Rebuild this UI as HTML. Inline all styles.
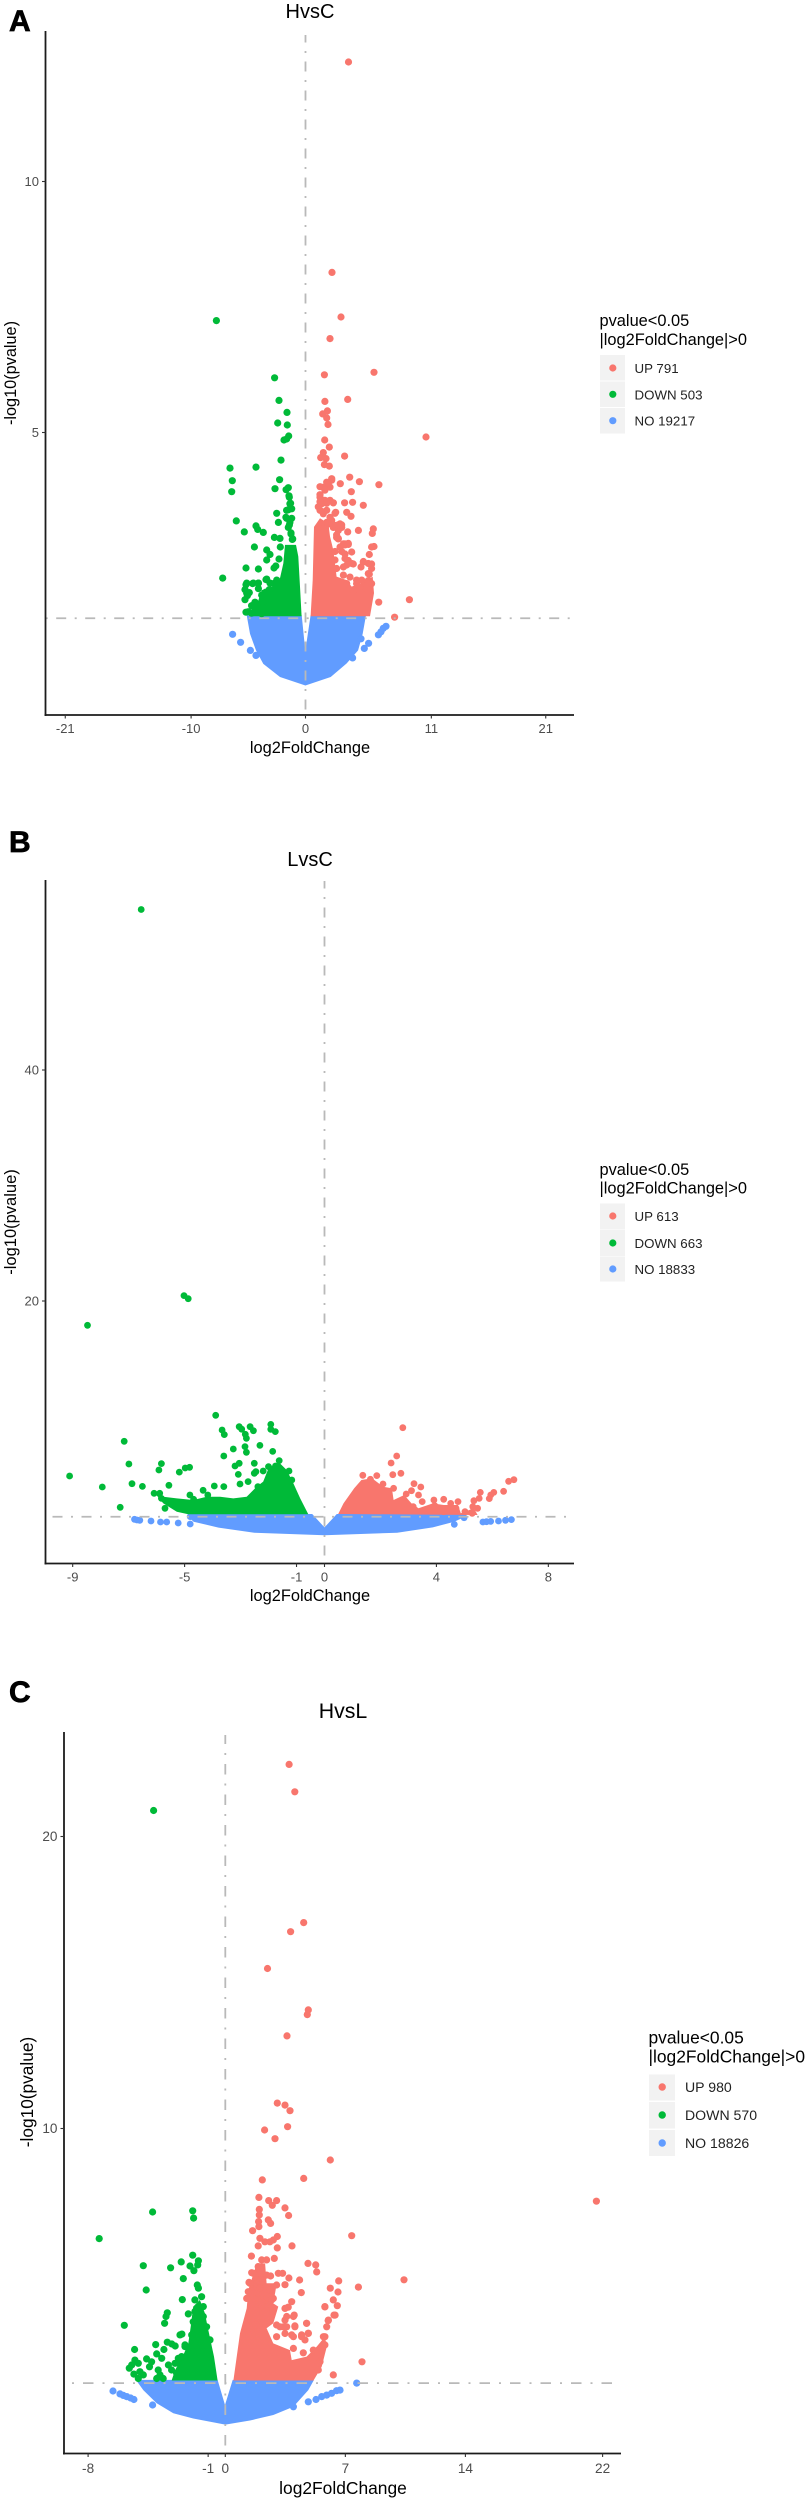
<!DOCTYPE html>
<html lang="en">
<head>
<meta charset="utf-8">
<title>Volcano plots</title>
<style>
html,body{margin:0;padding:0;background:#fff;}
svg{display:block;font-family:"Liberation Sans",sans-serif;}
</style>
</head>
<body>
<svg id="figure" width="808" height="2500" viewBox="0 0 808 2500" xmlns="http://www.w3.org/2000/svg">
<rect width="808" height="2500" fill="#fff"/>

<g id="panel-a"></g>
<g id="panel-b"></g>
<g id="panel-c"></g>

<g fill="#000" stroke="#000" stroke-width="0.7" font-weight="700" font-size="30">
<text x="9" y="31">A</text>
<text x="9" y="852">B</text>
<text x="9" y="1702">C</text>
</g>

<g fill="#000" text-anchor="middle">
<text x="310" y="18" font-size="20">HvsC</text>
<text x="310" y="866" font-size="20">LvsC</text>
<text x="343" y="1718" font-size="21.3">HvsL</text>
<text x="310" y="753" font-size="16.4">log2FoldChange</text>
<text x="310" y="1601" font-size="16.4">log2FoldChange</text>
<text x="343" y="2494" font-size="17.4">log2FoldChange</text>
<text transform="translate(16,373) rotate(-90)" font-size="16.3">-log10(pvalue)</text>
<text transform="translate(16,1222) rotate(-90)" font-size="16.5">-log10(pvalue)</text>
<text transform="translate(33,2092) rotate(-90)" font-size="17.3">-log10(pvalue)</text>
</g>

<g>
<text x="599.5" y="326" font-size="16.4">pvalue&lt;0.05</text>
<text x="599.5" y="345" font-size="16.4">|log2FoldChange|&gt;0</text>
<rect x="600" y="355" width="25" height="25.5" fill="#f2f2f2"/>
<rect x="600" y="381.5" width="25" height="25.5" fill="#f2f2f2"/>
<rect x="600" y="408" width="25" height="25.5" fill="#f2f2f2"/>
<circle cx="612.8" cy="368" r="3.6" fill="#F8766D"/>
<circle cx="612.8" cy="394.3" r="3.6" fill="#00BA38"/>
<circle cx="612.8" cy="420.7" r="3.6" fill="#619CFF"/>
<text x="634.5" y="373" font-size="13.3" fill="#222">UP 791</text>
<text x="634.5" y="399.3" font-size="13.3" fill="#222">DOWN 503</text>
<text x="634.5" y="425.7" font-size="13.3" fill="#222">NO 19217</text>
</g>

<g>
<text x="599.5" y="1175" font-size="16.4">pvalue&lt;0.05</text>
<text x="599.5" y="1193.5" font-size="16.4">|log2FoldChange|&gt;0</text>
<rect x="600" y="1203.5" width="25" height="26" fill="#f2f2f2"/>
<rect x="600" y="1230" width="25" height="26" fill="#f2f2f2"/>
<rect x="600" y="1256.5" width="25" height="25" fill="#f2f2f2"/>
<circle cx="612.8" cy="1216" r="3.6" fill="#F8766D"/>
<circle cx="612.8" cy="1243" r="3.6" fill="#00BA38"/>
<circle cx="612.8" cy="1269" r="3.6" fill="#619CFF"/>
<text x="634.5" y="1221" font-size="13.3" fill="#222">UP 613</text>
<text x="634.5" y="1248" font-size="13.3" fill="#222">DOWN 663</text>
<text x="634.5" y="1274" font-size="13.3" fill="#222">NO 18833</text>
</g>

<g>
<text x="648.5" y="2043.5" font-size="17.4">pvalue&lt;0.05</text>
<text x="648.5" y="2062.5" font-size="17.4">|log2FoldChange|&gt;0</text>
<rect x="649" y="2074.5" width="26" height="26" fill="#f2f2f2"/>
<rect x="649" y="2102" width="26" height="26.5" fill="#f2f2f2"/>
<rect x="649" y="2130" width="26" height="26" fill="#f2f2f2"/>
<circle cx="662.2" cy="2087" r="3.7" fill="#F8766D"/>
<circle cx="662.2" cy="2115" r="3.7" fill="#00BA38"/>
<circle cx="662.2" cy="2143" r="3.7" fill="#619CFF"/>
<text x="685" y="2092" font-size="14.1" fill="#222">UP 980</text>
<text x="685" y="2120" font-size="14.1" fill="#222">DOWN 570</text>
<text x="685" y="2148" font-size="14.1" fill="#222">NO 18826</text>
</g>
</svg>

<script>
/* ---------- Panel A: HvsC ---------- */
const aXTicks=[-21,-10,0,11,21];
const aYTicks=[5,10];
const aUpX=[3.76,2.32,3.1,2.14,5.99,1.65,3.69,1.70,1.91,1.5,1.85,1.97,10.53,1.68,2.08,3.42,1.56,1.33,1.79,1.65,2.08,3.86,4.71,3.04,6.42,4.0,3.42,4.12,5.05,3.6,3.98,3.69,4.62,5.93,5.84,5.99,5.78,9.08,6.4,7.79,
2.43,2.64,3.16,2.72,2.87,2.14,3.31,3.74,3.45,4.04,3.74,4.18,3.31,5.58,5.05,5.78,4.85,5.58,5.49,4.76,5.78,5.49,3.89,4.47,3.6,4.18,
1.27,1.56,1.85,2.29,2.14,1.41,1.7,1.27,1.85,1.56,2.14,1.85,2.29,1.12,2.72,3.02,2.43,2.0,3.45,2.87,3.02,
1.27,1.7,1.27,2.0,2.29,1.12,1.56,1.27,1.85,2.43,2.58,2.43,2.87,3.16,2.72,2.87,3.45,3.74,3.16,3.45,3.6,4.04,2.58,2.58,2.72,5.06,5.49,5.78,5.49,4.91,4.47,3.31];
const aUpY=[12.38,8.19,7.30,6.87,6.2,6.15,5.66,5.62,5.43,5.37,5.29,5.16,4.91,4.85,4.71,4.53,4.6,4.5,4.48,4.36,4.33,4.11,4.02,3.98,3.96,3.82,3.6,3.61,3.55,3.41,3.33,3.02,3.05,3.08,2.99,2.73,2.72,1.67,1.62,1.32,
3.6,3.41,3.11,2.91,3.05,3.31,2.78,2.77,2.58,2.62,2.45,2.38,2.32,2.57,2.42,2.38,2.32,2.18,2.05,1.92,1.99,1.85,2.12,1.99,1.99,1.85,
3.71,3.91,4.01,4.08,3.91,3.58,3.65,3.45,3.45,3.38,3.65,3.21,3.25,3.11,3.15,3.18,3.11,3.18,2.78,2.88,2.72,
3.92,3.85,3.76,3.99,4.05,3.52,3.42,3.62,3.59,3.6,3.39,3.16,3.16,3.16,2.96,2.89,2.76,2.79,2.63,2.49,2.36,2.39,2.63,2.46,2.29,2.43,2.39,2.29,2.19,2.06,2.06,2.16];
const aDownX=[-7.79,-2.70,-2.32,-1.62,-2.43,-1.59,-1.47,-1.88,-1.65,-2.14,-6.6,-4.33,-2.26,-6.4,-2.67,-6.45,-1.70,-1.5,-2.52,-2.37,-6.05,-5.35,-4.33,-4.18,-3.69,-2.72,-2.23,-4.47,-2.2,-3.39,-3.1,-3.39,-2.32,-5.2,-4.12,-2.6,-2.75,-7.24,
-5.2,-5.29,-4.91,-5.08,-5.29,-4.62,-4.12,-4.12,-3.45,-3.16,-3.45,-2.81,-2.52,-4.41,-4.71,-4.41,-4.12,-5.2,-4.71,-3.83,-3.54,-3.69,-3.39,-3.25,
-1.42,-1.36,-1.65,-1.21,-1.71,-1.36,-1.5,-1.27,-1.12,
-1.44,-1.3,-1.5,-1.65,-1.21,-1.41,-1.27,-1.15,-5.14,-5.14,-4.56,-4.12,-3.39,-3.1,-2.52,-3.83,-4.56,-5.0,-3.69];
const aDownY=[7.23,6.09,5.64,5.40,5.19,5.15,4.93,4.85,4.87,4.45,4.29,4.31,4.06,4.04,3.88,3.82,3.86,3.9,3.39,3.21,3.24,3.02,3.14,3.07,3.01,2.91,2.89,2.72,2.72,2.66,2.57,2.46,2.48,2.3,2.28,2.34,2.3,2.1,
1.97,1.87,1.81,1.75,1.67,1.99,2.0,1.89,2.07,1.87,1.82,1.99,1.95,1.62,1.55,1.49,1.52,1.42,1.4,1.39,1.79,1.62,1.52,1.69,
3.71,3.58,3.45,3.48,3.31,3.21,3.11,2.98,2.88,
3.74,3.59,3.46,3.29,3.29,3.16,3.0,2.87,2.0,1.8,2.0,2.0,2.08,2.0,2.06,1.76,1.56,1.43,1.5];
const aNoX=[-6.37,-5.67,-4.82,-4.33,5.14,5.52,6.37,6.6,6.8,7.04,4.85,4.12];
const aNoY=[0.98,0.82,0.66,0.56,0.7,0.8,0.97,1.03,1.1,1.14,0.89,0.51];
const aUpCloudX=[0.45,0.63,0.74,1.27,2.0,2.14,2.43,2.72,3.6,4.03,4.76,5.35,5.87,5.99,5.64];
const aUpCloudY=[1.34,2.06,3.12,3.29,3.19,2.93,2.66,2.13,2.06,1.93,1.99,2.06,2.13,1.8,1.34];
const aDownCloudX=[-0.34,-0.48,-0.63,-0.83,-1.79,-1.94,-2.23,-2.81,-3.83,-4.27,-4.71];
const aDownCloudY=[1.34,1.93,2.53,2.76,2.76,2.39,2.1,1.93,1.86,1.56,1.34];
const aNoCloudX=[-5.14,-0.33,-0.02,0.45,5.29,5.0,4.6,3.6,2.2,-0.01,-2.23,-3.69,-4.33,-4.85];
const aNoCloudY=[1.36,1.36,0.65,1.36,1.36,0.99,0.66,0.4,0.13,-0.04,0.13,0.39,0.66,0.99];

/* ---------- Panel B: LvsC ---------- */
const bXTicks=[-9,-5,-1,0,4,8];
const bYTicks=[20,40];
const bUpX=[2.8,2.58,2.38,2.44,2.73,1.37,1.87,1.64,2.09,3.2,3.44,3.11,2.92,2.47,3.36,3.49,3.91,4.26,4.51,4.77,3.94,4.39,4.7,5.57,5.53,5.34,5.3,5.47,6.05,5.94,5.89,6.4,6.58,6.77,5.28,5.02,3.17,2.85,3.75,4.26];
const bUpY=[9.03,6.58,5.97,4.96,5.08,4.91,4.88,4.56,4.16,4.18,3.9,3.58,3.29,3.78,3.2,2.63,2.77,2.83,2.48,2.63,2.28,1.9,2.05,3.43,2.91,2.71,2.19,2.05,3.43,3.2,2.89,3.52,4.39,4.53,1.62,1.76,2.19,2.48,1.9,1.76];
const bDownX=[-6.55,-5.02,-4.87,-8.47,-3.89,-3.05,-2.96,-2.66,-2.54,-3.66,-3.58,-1.92,-1.92,-1.76,-2.83,-2.79,-2.84,-2.79,-2.31,-3.26,-3.6,-1.85,-7.16,-6.99,-9.11,-7.94,-6.88,-6.51,-7.3,-5.83,-5.92,-5.19,-4.98,-4.82,-5.56,-6.09,-5.89,-5.83,-5.7,
-3.2,-3.05,-2.51,-3.08,-2.51,-2.45,-2.19,-2.0,-1.75,-1.62,-1.27,-1.17,-3.02,-2.73,-2.38,-3.94,-3.6,-4.34,-4.81,-4.68,-4.17];
const bDownY=[53.9,20.47,20.2,17.9,10.1,9.12,8.9,9.12,8.77,8.83,8.43,9.32,8.89,8.69,8.46,8.11,7.39,6.9,7.5,7.19,6.58,6.98,7.85,5.89,4.85,3.9,4.18,3.95,2.14,5.92,5.37,5.19,5.54,5.6,4.04,3.35,3.35,2.91,2.05,
5.71,5.95,5.95,4.99,5.08,5.22,5.28,5.66,5.71,6.18,5.28,4.5,4.16,4.36,3.93,3.98,3.93,3.61,3.2,2.83,3.2];
const bNoX=[-6.79,-6.7,-6.6,-6.2,-5.86,-5.64,-5.23,-4.8,-4.8,4.64,4.99,5.66,5.79,5.94,6.22,6.47,6.68];
const bNoY=[1.1,1.04,1.01,0.95,0.87,0.87,0.78,0.69,1.33,0.66,1.24,0.87,0.89,0.92,0.95,1.01,1.07];
const bUpCloudX=[0.49,0.68,1.06,1.32,1.7,2.09,2.41,2.47,2.85,3.11,3.36,3.87,4.26,4.77,4.87,5.34,5.47];
const bUpCloudY=[1.56,2.48,3.78,4.5,4.65,3.92,3.78,2.77,3.2,2.48,2.05,2.48,2.34,2.34,1.62,2.05,1.47];
const bDownCloudX=[-0.58,-0.87,-1.11,-1.35,-1.65,-2.0,-2.19,-2.42,-2.78,-3.26,-3.73,-4.21,-4.69,-5.28,-5.76,-6.06,-5.76,-5.28,-4.87];
const bDownCloudY=[1.53,2.91,4.21,5.37,6.09,5.51,4.36,3.93,3.06,2.91,3.06,3.06,2.77,2.91,3.06,3.35,2.48,1.76,1.53];
const bNoCloudX=[-4.87,-0.44,0,0.44,5.0,5.0,4.64,3.87,2.6,0,-2.51,-3.79,-4.68,-4.87];
const bNoCloudY=[1.56,1.56,0.4,1.56,1.56,1.3,0.89,0.4,-0.06,-0.29,-0.06,0.38,0.89,1.33];

/* ---------- Panel C: HvsL ---------- */
const cXTicks=[-8,-1,0,7,14,22];
const cYTicks=[10,20];
const cUpX=[3.72,4.05,4.57,3.81,2.46,4.84,4.78,3.6,3.03,3.48,3.77,3.63,2.29,2.9,6.12,4.57,2.16,1.96,2.53,2.74,2.99,3.48,3.69,1.98,1.98,1.94,2.51,2.64,1.59,1.96,2.02,1.92,2.31,2.6,3.03,2.8,3.03,3.89,7.37,1.52,2.12,2.41,2.86,4.82,5.27,5.33,1.92,10.42,
1.54,2.02,2.64,3.09,3.34,3.71,4.33,6.61,7.76,1.38,1.83,2.99,3.48,6.12,6.57,4.43,1.34,1.83,2.6,2.8,3.87,6.3,6.53,5.81,3.67,2.12,2.51,2.8,4.02,6.34,6.0,4.74,4.06,3.58,2.99,3.38,4.84,4.45,3.97,5.81,2.99,3.48,5.81,3.97,4.55,5.13,7.97,6.3,5.42,5.52,21.64,
3.48,3.97,3.19,4.06,4.74,4.84,4.65,4.45,3.87,3.58,3.48,5.72,5.91,6.01,6.4,5.81,2.02,1.63,1.44,1.83,1.63,2.12,2.61,2.7,2.41,2.02,1.25];
const cUpY=[22.47,21.53,17.05,16.74,15.48,14.06,13.9,13.17,10.87,10.8,10.61,10.06,9.95,9.65,8.92,8.29,8.24,7.64,7.53,7.37,7.53,7.28,7.02,7.23,7.04,6.81,6.87,6.75,6.5,6.64,6.24,5.98,6.12,6.12,6.3,6.18,5.91,5.98,6.33,5.63,5.5,5.5,5.55,5.38,5.33,5.09,5.27,4.82,
5.06,5.04,4.95,5.04,5.04,4.88,4.81,4.78,4.57,4.73,4.7,4.64,4.65,4.53,4.4,4.38,4.41,4.35,4.47,4.18,4.07,4.13,3.93,3.89,3.88,3.9,3.9,3.78,3.61,3.61,3.42,3.33,3.24,3.56,3.27,3.21,2.98,2.93,2.87,2.87,2.87,2.98,2.59,2.47,2.32,2.41,2.01,1.56,1.73,2.01,7.51,
3.84,3.56,3.21,3.21,3.33,2.99,2.76,2.87,2.93,3.21,3.44,2.87,3.21,3.44,3.61,3.9,5.15,5.04,4.7,4.58,4.18,4.07,4.47,4.13,4.98,4.53,4.18];
const cDownX=[-4.18,-7.35,-4.24,-1.9,-1.85,-4.78,-3.19,-2.57,-1.9,-1.57,-1.61,-2.06,-1.83,-2.45,-4.61,-1.63,-1.57,-2.51,-1.38,-1.77,-1.28,-3.38,-3.46,-3.54,-2.16,-5.89,-2.64,-2.53,-5.29,-4.06,-3.38,-3.12,-2.92,-3.58,-4.0,-3.71,-4.59,-4.3,-5.27,-5.07,-5.46,-5.6,-4.98,-5.33,-5.07,-4.78,-3.91,-3.32,-3.13,-4.0,-3.62,-2.74,-2.55,-2.35,-4.42,-3.81,-2.84,
-1.57,-1.77,-1.28,-1.09,-0.89,-1.87,-1.96,-2.35,-2.74,-2.93];
const cDownY=[20.89,6.23,7.14,7.18,6.93,5.3,5.23,5.43,5.66,5.47,5.33,5.29,5.13,4.86,4.47,4.64,4.53,4.14,4.24,4.13,3.9,3.69,3.56,3.33,3.65,3.26,2.93,2.96,2.43,2.6,2.68,2.62,2.55,2.43,2.28,2.13,2.11,2.01,2.07,1.96,1.9,1.79,1.67,1.59,1.44,1.56,1.73,1.9,1.73,1.44,1.44,2.01,2.19,2.53,1.84,1.56,1.62,
3.9,3.73,3.56,3.21,2.76,3.38,2.93,2.59,2.13,1.96];
const cNoX=[-6.55,-6.14,-5.95,-5.75,-5.52,-5.33,-4.24,4.84,5.29,5.62,5.91,6.2,6.49,6.69,7.66,3.97];
const cNoY=[1.01,0.91,0.86,0.82,0.77,0.72,0.53,0.64,0.72,0.82,0.87,0.93,1.02,1.04,1.28,0.47];
const cUpCloudX=[0.47,0.86,1.25,1.34,1.83,2.32,2.41,3.0,2.8,3.09,2.8,2.41,2.8,3.77,3.87,4.74,5.33,5.81,5.92,5.62,5.14];
const cUpCloudY=[1.37,2.99,3.84,4.47,5.38,5.38,4.7,4.7,4.01,3.9,3.33,3.16,2.64,2.41,2.07,2.19,2.53,2.87,2.53,1.84,1.37];
const cDownCloudX=[-0.45,-0.66,-0.99,-1.19,-1.48,-1.87,-2.02,-2.16,-2.45,-2.93,-3.13];
const cDownCloudY=[1.37,2.19,3.1,3.67,4.13,3.9,3.21,2.64,2.24,1.73,1.37];
const cNoCloudX=[-5.21,-0.45,-0.02,0.43,5.17,4.84,3.97,2.8,1.44,0,-1.87,-3.03,-4.0,-4.78];
const cNoCloudY=[1.39,1.39,0.53,1.39,1.39,1.04,0.47,0.19,0,-0.14,0.07,0.25,0.59,1.04];

const SVGNS='http://www.w3.org/2000/svg';
const UP='#F8766D',DOWN='#00BA38',NO='#619CFF';

function make(parent,tag,attrs){
  const el=document.createElementNS(SVGNS,tag);
  for(const k in attrs){el.setAttribute(k,attrs[k]);}
  parent.appendChild(el);
  return el;
}
function drawCloud(g,xs,ys,sx,sy,color,name){
  const pts=xs.map((v,i)=>sx(v).toFixed(1)+','+sy(ys[i]).toFixed(1)).join(' ');
  const el=make(g,'polygon',{points:pts,fill:color});
  
  
}
function drawDots(g,xs,ys,sx,sy,color,r,name){
  xs.forEach((v,i)=>{
    const el=make(g,'circle',{cx:sx(v).toFixed(1),cy:sy(ys[i]).toFixed(1),r:r,fill:color});
    
    
  });
}
function dashOffset(start,ref,dash,gap,dot){
  const period=dash+gap*2+dot;
  return (((start+dash+gap-ref)%period)+period)%period;
}
function drawPanel(id,geo,sx,sy,xTicks,yTicks,series){
  const g=document.getElementById(id);
  series.forEach(s=>{
    drawCloud(g,s.cloudX,s.cloudY,sx,sy,s.color,s.name+'-dense-cloud');
    drawDots(g,s.x,s.y,sx,sy,s.color,geo.r,s.name+'-point');
  });
  const dash=geo.dash,gap=geo.gap,dot=2;
  const pattern=dash+' '+gap+' '+dot+' '+gap;
  const hy=sy(geo.hLine);
  const hl=make(g,'line',{x1:geo.left,x2:geo.right,y1:hy,y2:hy,stroke:'#b9b9b9','stroke-width':1.8,'stroke-dasharray':pattern,'stroke-dashoffset':dashOffset(geo.left,geo.hRef,dash,gap,dot)});
  
  
  const vx=sx(0);
  const vl=make(g,'line',{x1:vx,x2:vx,y1:geo.vTop,y2:geo.bottom,stroke:'#b9b9b9','stroke-width':1.8,'stroke-dasharray':pattern,'stroke-dashoffset':dashOffset(geo.vTop,geo.vRef,dash,gap,dot)});
  
  
  const ya=make(g,'line',{x1:geo.left,x2:geo.left,y1:geo.top,y2:geo.bottom+1,stroke:'#1c1c1c','stroke-width':1.8});
  
  
  const xa=make(g,'line',{x1:geo.left-1,x2:geo.right,y1:geo.bottom,y2:geo.bottom,stroke:'#1c1c1c','stroke-width':1.8});
  
  
  xTicks.forEach(v=>{
    const t=make(g,'line',{x1:sx(v),x2:sx(v),y1:geo.bottom,y2:geo.bottom+3.5,stroke:'#333','stroke-width':1.1});
    
    
    const l=make(g,'text',{x:sx(v),y:geo.bottom+geo.tickDrop,'text-anchor':'middle','font-size':geo.tickSize,fill:'#4d4d4d'});
    
    
    l.textContent=String(v);
  });
  yTicks.forEach(v=>{
    const t=make(g,'line',{x1:geo.left-3.5,x2:geo.left,y1:sy(v),y2:sy(v),stroke:'#333','stroke-width':1.1});
    
    
    const l=make(g,'text',{x:geo.left-6.5,y:sy(v)+4.7,'text-anchor':'end','font-size':geo.tickSize,fill:'#4d4d4d'});
    
    
    l.textContent=String(v);
  });
}

drawPanel('panel-a',
  {left:45.5,right:574,top:31,bottom:715,vTop:35,hLine:1.3,hRef:161.7,vRef:312,dash:10,gap:8.5,r:3.6,tickDrop:18,tickSize:13},
  v=>305.5+11.44*v, v=>683.5-50.2*v, aXTicks, aYTicks,
  [{x:aNoX,y:aNoY,cloudX:aNoCloudX,cloudY:aNoCloudY,color:NO,name:'no'},
   {x:aUpX,y:aUpY,cloudX:aUpCloudX,cloudY:aUpCloudY,color:UP,name:'up'},
   {x:aDownX,y:aDownY,cloudX:aDownCloudX,cloudY:aDownCloudY,color:DOWN,name:'down'}]);

drawPanel('panel-b',
  {left:45.5,right:574,top:880,bottom:1563.5,vTop:881,hLine:1.32,hRef:564,vRef:1361,dash:10,gap:8.5,r:3.4,tickDrop:18,tickSize:13},
  v=>324.5+27.98*v, v=>1532-11.55*v, bXTicks, bYTicks,
  [{x:bNoX,y:bNoY,cloudX:bNoCloudX,cloudY:bNoCloudY,color:NO,name:'no'},
   {x:bUpX,y:bUpY,cloudX:bUpCloudX,cloudY:bUpCloudY,color:UP,name:'up'},
   {x:bDownX,y:bDownY,cloudX:bDownCloudX,cloudY:bDownCloudY,color:DOWN,name:'down'}]);

drawPanel('panel-c',
  {left:64,right:621,top:1732,bottom:2453.5,vTop:1735,hLine:1.28,hRef:621,vRef:2058,dash:10.5,gap:9,r:3.6,tickDrop:19.5,tickSize:13.6},
  v=>225.3+17.15*v, v=>2420.5-29.2*v, cXTicks, cYTicks,
  [{x:cNoX,y:cNoY,cloudX:cNoCloudX,cloudY:cNoCloudY,color:NO,name:'no'},
   {x:cUpX,y:cUpY,cloudX:cUpCloudX,cloudY:cUpCloudY,color:UP,name:'up'},
   {x:cDownX,y:cDownY,cloudX:cDownCloudX,cloudY:cDownCloudY,color:DOWN,name:'down'}]);
</script>
</body>
</html>
